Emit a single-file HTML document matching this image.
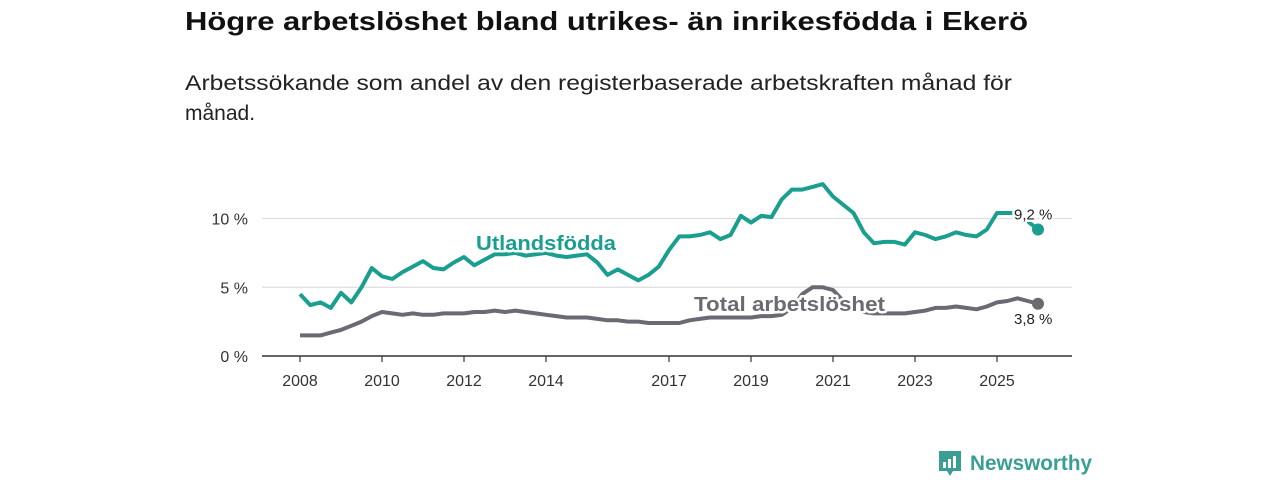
<!DOCTYPE html>
<html><head><meta charset="utf-8"><style>
html,body{margin:0;padding:0;background:#fff;}
svg{display:block;font-family:"Liberation Sans",sans-serif;}
</style></head><body>
<svg id="chart" width="1280" height="480" viewBox="0 0 1280 480">
<text x="185" y="30" font-size="26" font-weight="bold" fill="#111" textLength="843" lengthAdjust="spacingAndGlyphs">Högre arbetslöshet bland utrikes- än inrikesfödda i Ekerö</text>
<text x="185" y="90" font-size="21" fill="#222" textLength="827" lengthAdjust="spacingAndGlyphs">Arbetssökande som andel av den registerbaserade arbetskraften månad för</text>
<text x="185" y="120" font-size="21" fill="#222">månad.</text>
<g id="grid"></g><g id="xaxis"></g><g id="series"></g><g id="labels"></g>
<g>
<path d="M939 451 h22 v20 h-8 l-3 5 -3 -5 h-8 z" fill="#3a9e93"/>
<rect x="943" y="462" width="3" height="6" fill="#fff"/><rect x="948" y="459" width="3" height="9" fill="#fff"/><rect x="953" y="456" width="3" height="12" fill="#fff"/>
<text x="970" y="470" font-size="21" font-weight="bold" fill="#3a9e93" textLength="122" lengthAdjust="spacingAndGlyphs">Newsworthy</text>
</g>
</svg>
<script>
const yTicks=[0,5,10];
const yTickLabels=["0 %","5 %","10 %"];
const xTicks=[2008,2010,2012,2014,2017,2019,2021,2023,2025];
const startYear=2008;
const utlandsfodda=[4.5,3.7,3.9,3.5,4.6,3.9,5.0,6.4,5.8,5.6,6.1,6.5,6.9,6.4,6.3,6.8,7.2,6.6,7.0,7.4,7.4,7.5,7.3,7.4,7.5,7.3,7.2,7.3,7.4,6.8,5.9,6.3,5.9,5.5,5.9,6.5,7.7,8.7,8.7,8.8,9.0,8.5,8.8,10.2,9.7,10.2,10.1,11.4,12.1,12.1,12.3,12.5,11.6,11.0,10.4,9.0,8.2,8.3,8.3,8.1,9.0,8.8,8.5,8.7,9.0,8.8,8.7,9.2,10.4,10.4,10.4,9.8,9.2];
const total=[1.5,1.5,1.5,1.7,1.9,2.2,2.5,2.9,3.2,3.1,3.0,3.1,3.0,3.0,3.1,3.1,3.1,3.2,3.2,3.3,3.2,3.3,3.2,3.1,3.0,2.9,2.8,2.8,2.8,2.7,2.6,2.6,2.5,2.5,2.4,2.4,2.4,2.4,2.6,2.7,2.8,2.8,2.8,2.8,2.8,2.9,2.9,3.0,3.5,4.5,5.0,5.0,4.8,4.0,3.5,3.2,3.1,3.1,3.1,3.1,3.2,3.3,3.5,3.5,3.6,3.5,3.4,3.6,3.9,4.0,4.2,4.0,3.8];
const latestLabels=["9,2 %","3,8 %"];
const NS="http://www.w3.org/2000/svg";
const xs=y=>300+(y-2008)*41;
const ys=v=>356-v*13.75;
function mk(t,a,p){const e=document.createElementNS(NS,t);for(const k in a)e.setAttribute(k,a[k]);document.getElementById(p).appendChild(e);return e;}
yTicks.forEach((t,i)=>{
 if(t>0){const l=mk('line',{x1:262,x2:1072,y1:ys(t),y2:ys(t),stroke:'#ddd','stroke-width':1.3},'grid');
 
 }
 const tx=mk('text',{x:248,y:ys(t)+6,'font-size':16,fill:'#333','text-anchor':'end'},'grid');tx.textContent=yTickLabels[i];
 
 
});
const ax=mk('line',{x1:262,x2:1072,y1:356,y2:356,stroke:'#333','stroke-width':1.5},'xaxis');


xTicks.forEach(t=>{
 mk('line',{x1:xs(t),x2:xs(t),y1:356,y2:362,stroke:'#333','stroke-width':1.2},'xaxis');
 const tx=mk('text',{x:xs(t),y:386,'font-size':16,fill:'#333','text-anchor':'middle'},'xaxis');tx.textContent=t;
 
 
});
function line(data,color,name){
 const d=data.map((v,i)=>(i?'L':'M')+xs(startYear+i*0.25).toFixed(1)+' '+ys(v).toFixed(1)).join(' ');
 const p=mk('path',{d:d,fill:'none',stroke:color,'stroke-width':4,'stroke-linejoin':'round'},'series');
 
 
 const n=data.length-1;
 const c=mk('circle',{cx:xs(startYear+n*0.25),cy:ys(data[n]),r:6,fill:color},'series');
 
 
}
line(total,'#6b6a72','total-line');
line(utlandsfodda,'#1a9e8f','utlandsfodda-line');
function lab(x,y,txt,color,size,weight,name,anchor){
 const t=mk('text',{x:x,y:y,'font-size':size,'font-weight':weight,fill:color,stroke:'#fff','stroke-width':5,'paint-order':'stroke','stroke-linejoin':'round','text-anchor':anchor||'start'},'labels');
 t.textContent=txt;
 
 
 return t;
}
const l1=lab(476,250,'Utlandsfödda','#1a9e8f',20,'bold','utlandsfodda-label');
l1.setAttribute('textLength','140');
l1.setAttribute('lengthAdjust','spacingAndGlyphs');
const l2=lab(694,311,'Total arbetslöshet','#6b6a72',20,'bold','total-label');
l2.setAttribute('textLength','191');
l2.setAttribute('lengthAdjust','spacingAndGlyphs');
const n=utlandsfodda.length-1;
lab(1014,ys(utlandsfodda[n])-10,latestLabels[0],'#222',15,'normal','utlandsfodda-value-label');
lab(1014,ys(total[n])+20,latestLabels[1],'#222',15,'normal','total-value-label');
</script>
</body></html>
